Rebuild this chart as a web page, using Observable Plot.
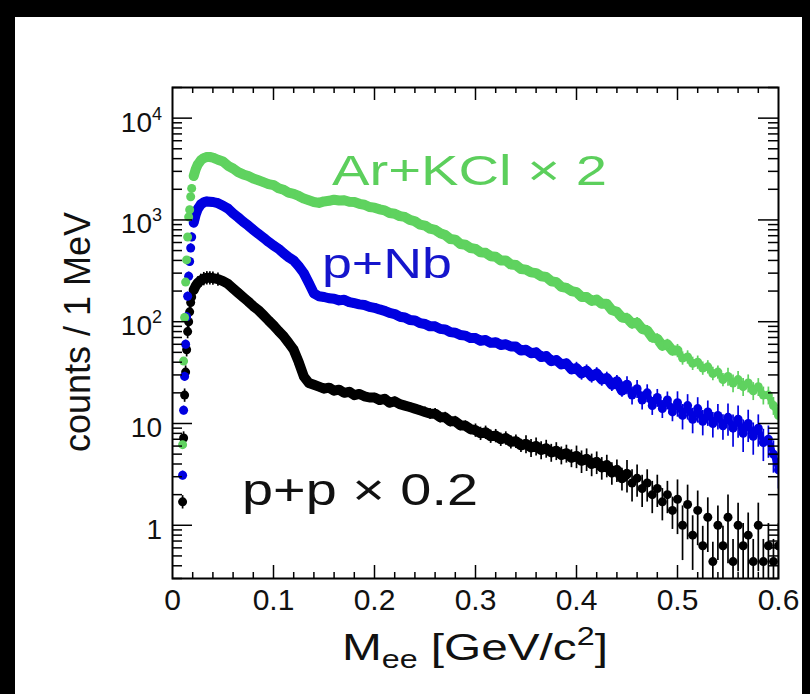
<!DOCTYPE html>
<html><head><meta charset="utf-8">
<script src="https://cdn.jsdelivr.net/npm/d3@7"></script>
<script src="https://cdn.jsdelivr.net/npm/@observablehq/plot@0.6"></script>
<style>
html,body{margin:0;padding:0;background:#fff;width:810px;height:694px;overflow:hidden;}
#chart{position:absolute;left:0;top:0;}
.bar{position:absolute;background:#000;}
</style></head><body>
<div id="chart"></div>
<div class="bar" style="left:0;top:0;width:810px;height:17px"></div>
<div class="bar" style="left:0;top:0;width:15px;height:694px"></div>
<div class="bar" style="left:802px;top:0;width:8px;height:694px"></div>
<script>
// ---- data ----
const earlyMass = [0.010,0.011,0.012,0.013,0.014,0.015,0.016,0.017,0.018,0.019,0.021,0.023,0.025,0.028,0.031,0.034,0.037];
const arEarly = [6.2,41,110,245,405,680,1070,1260,1690,2040,2700,3150,3500,3850,4050,4150,4150];
const nbEarly = [3.1,13.5,29,60,112,178,280,390,530,680,940,1130,1280,1420,1490,1520,1510];
const ppEarly = [1.7,7.2,19,32,53,80,100,125,154,175,205,225,240,255,265,270,270];

// 5 MeV bins from 0.040 to 0.600 GeV/c^2
const arKCl = [
4100,3900,3750,3400,3200,2950,2800,2700,2550,2450,
2350,2250,2200,2050,1980,1850,1800,1720,1620,1560,
1500,1470,1520,1540,1580,1550,1560,1510,1500,1440,
1410,1340,1320,1270,1240,1170,1150,1090,1070,1000,
970,900,880,820,800,740,710,650,640,580,
570,530,520,480,475,440,435,400,400,365,
360,330,325,305,300,280,275,250,245,220,
215,200,195,175,175,160,165,150,150,130,
125,110,108,96,98,85,82,70,68,58,
60,52,52,44,45,39,40,35,36,31,
32,27,29,25,27,23,25,21,23,19,
19,15,12];
const pNb = [
1500,1460,1380,1290,1160,1060,960,880,800,730,
670,610,560,520,470,430,400,350,300,240,
190,178,175,170,168,162,164,156,152,148,
146,140,137,132,128,122,119,112,110,104,
103,97,95,90,90,85,84,79,78,74,
73,69,69,65,66,62,63,59,60,57,
57,52,53,49,50,45,46,41,42,38,
39,34,35,31,33,29,31,27,28,24,
26,21,24,19,22,17,20,15,18,14,
17,13,16,12,15,11,14,10.5,13,10,
12,9.5,11.5,9,11,8,10,7.5,9,6.5,
7,5,3.5];
const pp = [
268,262,250,235,212,192,174,158,142,130,
116,103,92,81,72,62,53,40,29,25,
24,23,22,22.5,21,21.5,20,20.5,19,19.5,
18.5,18,18,17,17.5,16,16.5,15.5,15,14.5,
14,13.5,13,12.5,12.5,11.5,11.5,10.5,10.5,9.6,
9.5,8.8,8.6,8.0,8.2,7.5,7.6,7.0,7.2,6.6,
6.7,6.1,6.3,5.8,6.0,5.5,5.7,5.2,5.4,4.9,
5.1,4.6,4.8,4.3,4.5,4.0,4.2,3.7,3.9,3.3,
3.5,2.9,3.2,2.6,2.9,2.3,2.6,2.0,2.3,1.7,
2.0,1.4,1.8,1.0,1.6,0.8,1.4,0.63,1.2,0.44,
1.0,0.63,1.2,0.44,1.0,0.63,0.8,0.44,1.0,0.44,
0.63,0.44,0.63];
// relative error per 50 MeV region
const errAr = [0.08,0.02,0.02,0.02,0.03,0.04,0.05,0.06,0.08,0.12,0.15,0.20];
const errNb = [0.10,0.02,0.03,0.04,0.05,0.06,0.08,0.10,0.14,0.20,0.28,0.35];
const errPP = [0.15,0.03,0.04,0.08,0.10,0.12,0.15,0.20,0.25,0.35,0.55,0.65];

const xTickLabels = [0,0.1,0.2,0.3,0.4,0.5,0.6];
const yTickLabels = [[1,"1",""],[10,"10",""],[100,"10","2"],[1000,"10","3"],[10000,"10","4"]];
const labels = {ar:"Ar+KCl × 2", nb:"p+Nb", pp:"p+p × 0.2"};

// ---- build ----
const massMain = d3.range(40, 601, 5).map(v => v/1000);
const mass = earlyMass.concat(massMain);
function series(vals, errs){
  return mass.map((x,i)=>({x, y: vals[i], e: errs[Math.min(11, Math.floor(x*20+1e-9))]}));
}
const sAr = series(arEarly.concat(arKCl), errAr);
const sNb = series(nbEarly.concat(pNb), errNb);
const sPP = series(ppEarly.concat(pp), errPP);

const W=810,H=694,mL=172,mR=32,mT=87,mB=116;
const iw=W-mL-mR, ih=H-mT-mB;
const GREEN="#5fd25f", BLUE="#0000e0", BLACK="#000";

const xMinor = d3.range(0, 31).map(i=>i/50).filter(v=>Math.round(v*1000)%100!==0);
const xMajor = [0.1,0.2,0.3,0.4,0.5];
const yMajor = [1,10,100,1000,10000];
const yMinor = [];
for (const d of [0.1,1,10,100,1000,10000]) for (let k=2;k<=9;k++){const v=k*d; if(v>=0.3 && v<=20000) yMinor.push(v);}

function seriesMarks(s, c, bandEnd, tailEnd){
  return [
    Plot.ruleX(s, {x:"x", y1:d=>d.y*(1-d.e), y2:d=>d.y*(1+d.e), stroke:c, strokeWidth:1.7, clip:true}),
    Plot.line(s.filter(d=>d.x>=0.02 && d.x<=bandEnd), {x:"x", y:"y", stroke:c, strokeWidth:10, strokeLinejoin:"round", strokeLinecap:"round", clip:true}),
    Plot.line(s.filter(d=>d.x>=bandEnd && d.x<=tailEnd), {x:"x", y:"y", stroke:c, strokeWidth:6, strokeLinejoin:"round", strokeLinecap:"round", clip:true}),
    Plot.dot(s, {x:"x", y:"y", r:4.5, fill:c, stroke:"none", clip:true})
  ];
}

const plot = Plot.plot({
  width:W, height:H, marginLeft:mL, marginRight:mR, marginTop:mT, marginBottom:mB,
  style:{fontFamily:"'Liberation Sans', Arial, sans-serif", background:"white", overflow:"visible"},
  x:{domain:[0,0.6]},
  y:{type:"log", domain:[0.3,20000], axis:null},
  marks:[
    ...seriesMarks(sPP, BLACK, 0.45, 0.45),
    ...seriesMarks(sNb, BLUE, 0.45, 0.6),
    ...seriesMarks(sAr, GREEN, 0.5, 0.6),
    Plot.tickX(xMinor, {x:d=>d, insetTop: ih-6, strokeWidth:1.5}),
    Plot.tickX(xMajor, {x:d=>d, insetTop: ih-13, strokeWidth:1.5}),
    Plot.tickX(xMinor, {x:d=>d, insetBottom: ih-6, strokeWidth:1.5}),
    Plot.tickX(xMajor, {x:d=>d, insetBottom: ih-13, strokeWidth:1.5}),
    Plot.tickY(yMinor, {y:d=>d, insetRight: iw-10, strokeWidth:1.5}),
    Plot.tickY(yMajor, {y:d=>d, insetRight: iw-20, strokeWidth:1.5}),
    Plot.tickY(yMinor, {y:d=>d, insetLeft: iw-10, strokeWidth:1.5}),
    Plot.tickY(yMajor, {y:d=>d, insetLeft: iw-20, strokeWidth:1.5}),
    Plot.frame({stroke:"black", strokeWidth:2}),
    Plot.axisX({ticks:xTickLabels, tickSize:0, tickPadding:10, fontSize:30, tickFormat:d=>String(d), label:null, color:"#111"})
  ]
});
document.getElementById("chart").appendChild(plot);

const svg = d3.select(plot);
const ys = plot.scale("y");
const FONT = "'Liberation Sans', Arial, sans-serif";

// y tick labels with superscripts
for (const [v, base, sup] of yTickLabels){
  const t = svg.append("text").attr("x", 162).attr("y", ys.apply(v)+14)
    .attr("text-anchor","end").attr("font-family",FONT).attr("font-size",28).attr("fill","#111");
  t.append("tspan").text(base);
  if (sup) t.append("tspan").attr("dy",-12).attr("font-size",18).text(sup);
}

function fitWidth(sel, x0, target){
  const w = sel.node().getBBox().width;
  const s = target / w;
  sel.attr("transform", `translate(${x0},0) scale(${s},1) translate(${-x0},0)`);
}

// series labels
const tAr = svg.append("text").attr("x",332).attr("y",185).attr("text-anchor","start").attr("font-family",FONT).attr("font-size",42).attr("fill","#5ccf5c").text(labels.ar);
fitWidth(tAr, 332, 275);
const tNb = svg.append("text").attr("x",322).attr("y",278).attr("text-anchor","start").attr("font-family",FONT).attr("font-size",43).attr("fill","#1515cc").text(labels.nb);
fitWidth(tNb, 322, 130);
const tPP = svg.append("text").attr("x",242).attr("y",505).attr("text-anchor","start").attr("font-family",FONT).attr("font-size",44).attr("fill","#111").text(labels.pp);
fitWidth(tPP, 242, 236);

// x axis label
const xl = svg.append("text").attr("x",342).attr("y",660).attr("text-anchor","start").attr("font-family",FONT).attr("font-size",37).attr("fill","#111");
xl.append("tspan").text("M");
xl.append("tspan").attr("dy",8).attr("font-size",25).text("ee");
xl.append("tspan").attr("dy",-8).text(" [GeV/c");
xl.append("tspan").attr("dy",-15).attr("font-size",25).text("2");
xl.append("tspan").attr("dy",15).text("]");
fitWidth(xl, 342, 266);

// y axis label
svg.append("text").attr("transform","translate(90,332) rotate(-90)").attr("text-anchor","middle")
  .attr("font-family",FONT).attr("font-size",36).attr("fill","#111").text("counts / 1 MeV");
</script>
</body></html>
